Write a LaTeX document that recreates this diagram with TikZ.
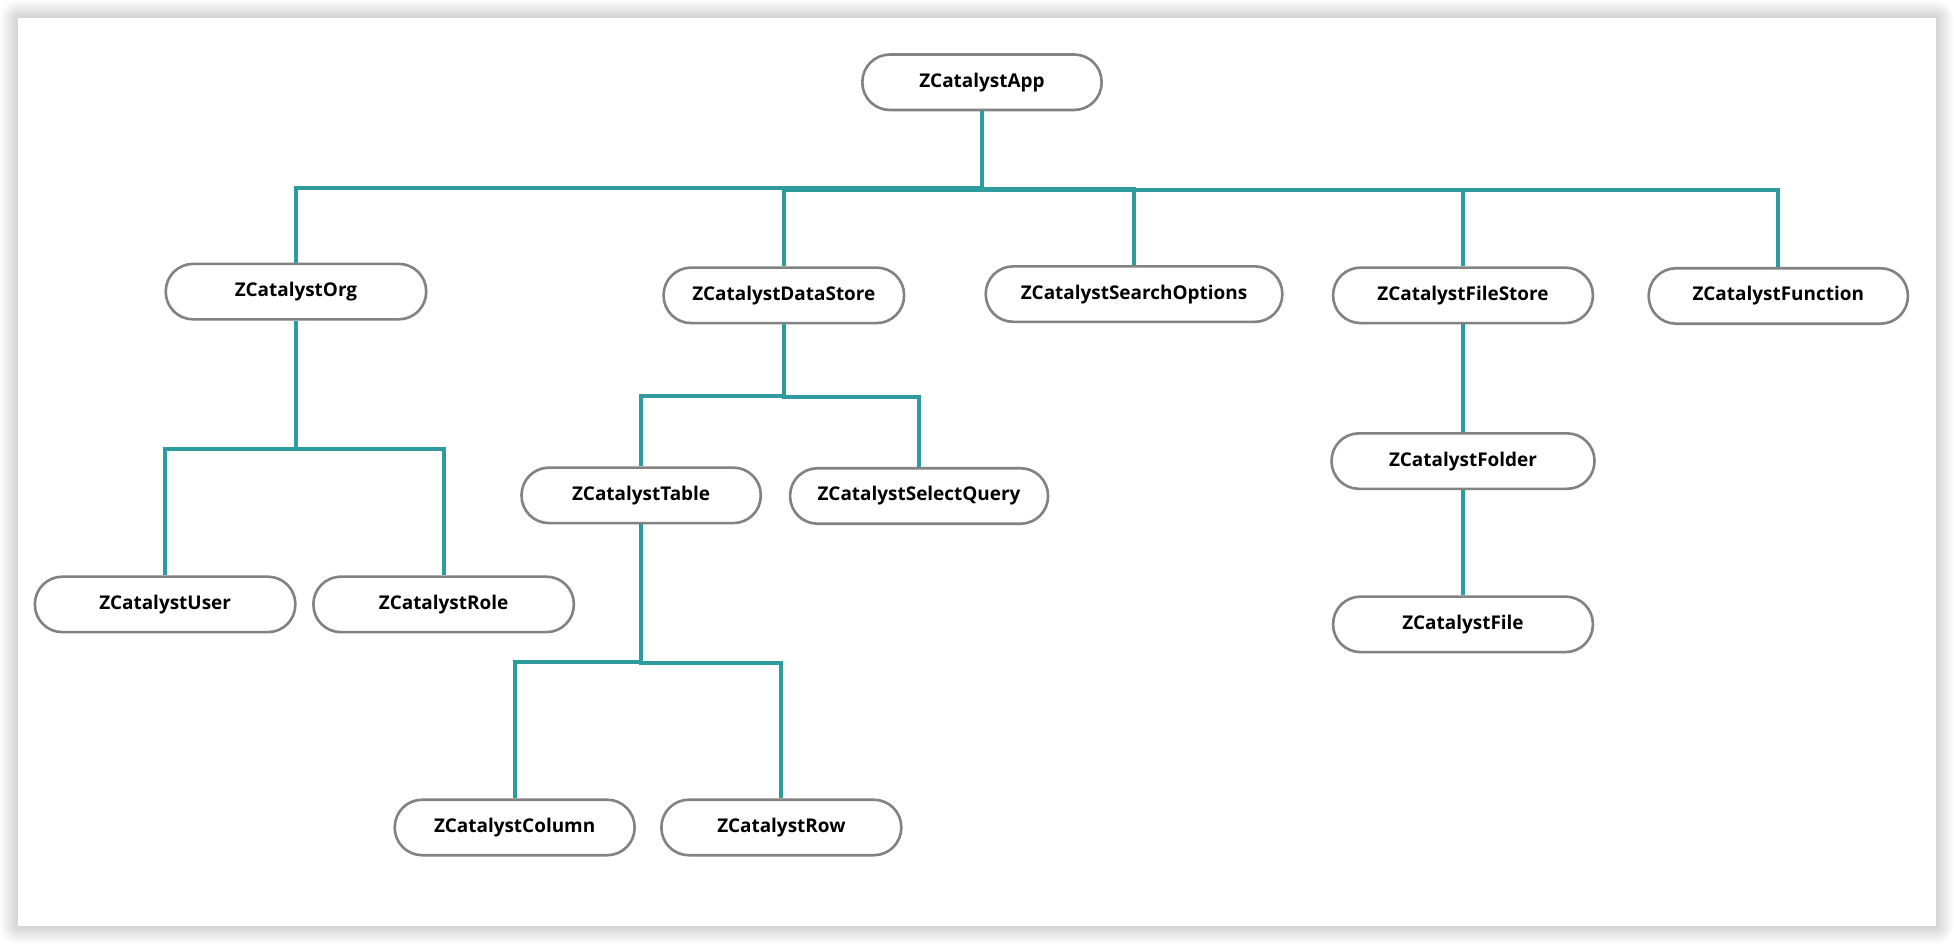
\documentclass[tikz,border=0pt]{standalone}
\usepackage{fontspec}
\setmainfont{Open Sans}
\definecolor{teal2}{HTML}{2E9B9F}
\definecolor{boxgray}{HTML}{828282}
\begin{document}
\begin{tikzpicture}[x=1pt,y=-1pt,
  box/.style={draw=boxgray, line width=2.1pt, fill=white, rounded corners=22pt,
    minimum height=44.5pt, inner sep=0pt, text=black,
    font=\bfseries\fontsize{15.2}{18}\selectfont},
  conn/.style={draw=teal2, line width=3.2pt}]
\useasboundingbox (0,0) rectangle (1568,757.5);
% frame with soft shadow
\foreach \i in {1,...,14}
  \fill[black, opacity=0.012, rounded corners=\i pt] (14.4-\i,14.4-\i) rectangle (1553.7+\i,743.2+\i);
\fill[white] (14.4,14.4) rectangle (1553.7,743.2);

% nodes
\node[box, minimum width=192pt]   (app)    at (788,66)    {ZCatalystApp};
\node[box, minimum width=209pt]   (org)    at (237.5,234) {ZCatalystOrg};
\node[box, minimum width=193pt]   (ds)     at (629,237)   {ZCatalystDataStore};
\node[box, minimum width=238pt]   (so)     at (910,236)   {ZCatalystSearchOptions};
\node[box, minimum width=208.5pt] (fs)     at (1174,237)  {ZCatalystFileStore};
\node[box, minimum width=208pt]   (fn)     at (1427,237.5){ZCatalystFunction};
\node[box, minimum width=209pt]   (user)   at (132.5,485) {ZCatalystUser};
\node[box, minimum width=209pt]   (role)   at (356,485)   {ZCatalystRole};
\node[box, minimum width=192pt]   (table)  at (514.5,397.5) {ZCatalystTable};
\node[box, minimum width=207pt]   (sq)     at (737.5,398) {ZCatalystSelectQuery};
\node[box, minimum width=192.5pt] (col)    at (413,664)   {ZCatalystColumn};
\node[box, minimum width=192.5pt] (row)    at (627,664)   {ZCatalystRow};
\node[box, minimum width=211pt]   (folder) at (1174,370)  {ZCatalystFolder};
\node[box, minimum width=208.5pt] (file)   at (1174,501)  {ZCatalystFile};

% connectors
\draw[conn] (app.south) -- ++(0,61.5) -| (org.north);
\draw[conn] (app.south) -- ++(0,63.5) -| (ds.north);
\draw[conn] (app.south) -- ++(0,62.5) -| (so.north);
\draw[conn] (app.south) -- ++(0,63.5) -| (fs.north);
\draw[conn] (app.south) -- ++(0,63.5) -| (fn.north);

\draw[conn] (org.south) -- ++(0,103) -| (user.north);
\draw[conn] (org.south) -- ++(0,103) -| (role.north);

\draw[conn] (ds.south) -- ++(0,57.5) -| (table.north);
\draw[conn] (ds.south) -- ++(0,58.5) -| (sq.north);

\draw[conn] (table.south) -- ++(0,110.5) -| (col.north);
\draw[conn] (table.south) -- ++(0,111) -| (row.north);

\draw[conn] (fs.south) -- (folder.north);
\draw[conn] (folder.south) -- (file.north);
\end{tikzpicture}
\end{document}
